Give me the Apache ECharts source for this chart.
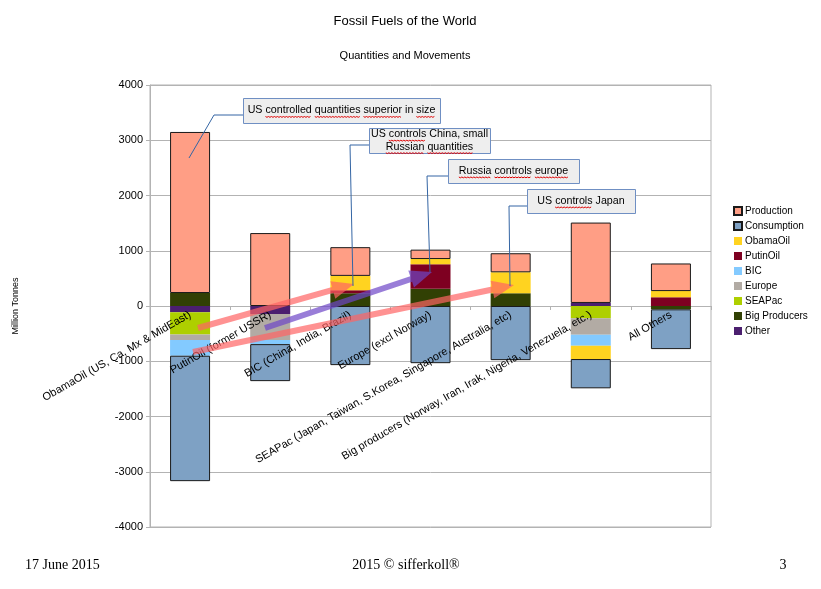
<!DOCTYPE html>
<html><head><meta charset="utf-8">
<script src="https://cdn.jsdelivr.net/npm/echarts@6/dist/echarts.min.js"></script>
<style>html,body{margin:0;padding:0;background:#fff}#c{width:821px;height:589px}</style>
</head><body><div id="c"></div>
<script>
// ---- data ----
const categories = [
  "ObamaOil (US, Ca, Mx & MidEast)",
  "PutinOil (former USSR)",
  "BIC (China, India, Brazil)",
  "Europe (excl Norway)",
  "SEAPac (Japan, Taiwan, S.Korea, Singapore, Australia, etc)",
  "Big producers (Norway, Iran, Irak, Nigeria, Venezuela, etc.)",
  "All Others"
];
const production   = [2915, 1320, 520, 170, 345, 1455, 500];
const consumption  = [-2270, -670, -1070, -1035, -980, -530, -720];
const obamaOil     = [null, null, 260, 95, 380, -240, 113];
const putinOil     = [null, null, 55, 445, null, null, 157];
const bic          = [-285, -75, null, null, null, -200, null];
const europe       = [-100, -470, null, null, null, -300, null];
const seapac       = [-400, null, null, null, null, -220, null];
const bigProducers = [235, null, 230, 310, 230, null, -60];
const other        = [-115, -145, null, null, null, 55, null];
const legendNames  = ["Production","Consumption","ObamaOil","PutinOil","BIC","Europe","SEAPac","Big Producers","Other"];
const yMin = -4000, yMax = 4000, yStep = 1000;

const FONT = '"Liberation Sans", Arial, sans-serif';
const chart = echarts.init(document.getElementById('c'));

const GRID = { left: 150, right: 110, top: 85, bottom: 62 };
const gridH = 589 - GRID.top - GRID.bottom;
// distance from bottom of grid to the zero value line
const zeroOffset = gridH * (0 - yMin) / (yMax - yMin);

function bar(name, data, color, border) {
  return {
    name, type: 'bar', stack: 'total', data, barWidth: 40,
    itemStyle: { color, borderColor: border ? '#1a1a1a' : color, borderWidth: border ? 1 : 0 },
    emphasis: { disabled: true }
  };
}

chart.setOption({
  animation: false,
  grid: Object.assign({ show: true, borderColor: '#b3b3b3', borderWidth: 1, containLabel: false, outerBoundsMode: 'none' }, GRID),
  legend: {
    data: legendNames, orient: 'vertical', left: 728, top: 201, icon: 'rect',
    itemWidth: 8, itemHeight: 8, itemGap: 5,
    textStyle: { fontFamily: FONT, fontSize: 10, color: '#000', lineHeight: 10, padding: [0, 0, 0, -2] },
    selectedMode: false
  },
  xAxis: {
    type: 'category', data: categories, z: 10, position: 'bottom', offset: -zeroOffset,
    axisLine: { show: true, onZero: false, lineStyle: { color: 'rgba(0,0,0,0)' } },
    axisTick: { show: true, length: 4, lineStyle: { color: '#b3b3b3' } },
    axisLabel: { interval: 0, rotate: 30, margin: 8, fontFamily: FONT, fontSize: 11, color: '#000' },
    splitLine: { show: false }
  },
  yAxis: {
    type: 'value', min: yMin, max: yMax, interval: yStep,
    name: 'Million Tonnes', nameLocation: 'middle', nameGap: 130,
    nameTextStyle: { fontFamily: FONT, fontSize: 9, color: '#000' },
    axisLine: { show: true, lineStyle: { color: '#b3b3b3' } },
    axisTick: { show: true, length: 4, lineStyle: { color: '#b3b3b3' } },
    axisLabel: { fontFamily: FONT, fontSize: 11, color: '#000', margin: 7, formatter: v => String(v) },
    splitLine: { show: true, lineStyle: { color: '#b3b3b3' } }
  },
  series: [
    bar('Other', other, '#4b1f6f'),
    bar('Big Producers', bigProducers, '#314004'),
    bar('SEAPac', seapac, '#aecf00'),
    bar('Europe', europe, '#b2aba4'),
    bar('BIC', bic, '#83caff'),
    bar('PutinOil', putinOil, '#7e0021'),
    bar('ObamaOil', obamaOil, '#ffd320'),
    bar('Consumption', consumption, '#7ea1c4', true),
    bar('Production', production, '#ff9e85', true)
  ]
});

// ---- annotations (decorations) ----
const mctx = document.createElement('canvas').getContext('2d');
const BOXFONT = '10.7px ' + FONT;
mctx.font = BOXFONT;
const tw = s => mctx.measureText(s).width;

const g = [];
function arrowPoly(x1, y1, x2, y2, sw, hw, hl) {
  const dx = x2 - x1, dy = y2 - y1, L = Math.hypot(dx, dy), ux = dx / L, uy = dy / L, nx = -uy, ny = ux;
  const bx = x2 - ux * hl, by = y2 - uy * hl;
  return [[x1 + nx * sw, y1 + ny * sw], [bx + nx * sw, by + ny * sw], [bx + nx * hw, by + ny * hw], [x2, y2],
          [bx - nx * hw, by - ny * hw], [bx - nx * sw, by - ny * sw], [x1 - nx * sw, y1 - ny * sw]];
}
function arrow(x1, y1, x2, y2, color) {
  g.push({ type: 'polygon', z: 50, shape: { points: arrowPoly(x1, y1, x2, y2, 3, 9, 22) }, style: { fill: color } });
}
function connector(pts) {
  g.push({ type: 'polyline', z: 60, shape: { points: pts }, style: { stroke: '#3465a4', lineWidth: 1, fill: null } });
}
function box(x, y, w, h, lines, under) {
  g.push({ type: 'rect', z: 70, shape: { x: x + 0.5, y: y + 0.5, width: w, height: h },
           style: { fill: '#eeeeee', stroke: '#6f8fc3', lineWidth: 1 } });
  const cx = x + w / 2;
  const lh = 12.5;
  const y0 = y + h / 2 - (lines.length - 1) * lh / 2;
  lines.forEach((ln, i) => {
    const ly = y0 + i * lh;
    g.push({ type: 'text', z: 71, x: cx, y: ly,
             style: { text: ln, font: BOXFONT, fill: '#000', align: 'center', verticalAlign: 'middle' } });
    const sx = cx - tw(ln) / 2;
    (under[i] || []).forEach(word => {
      const idx = ln.indexOf(word);
      if (idx < 0) return;
      const ox = sx + tw(ln.slice(0, idx));
      const ww = tw(word);
      const pts = [];
      for (let k = 0; k <= ww; k += 1.5) pts.push([ox + k, ly + 6 + ((Math.round(k / 1.5) % 2) ? 0.8 : 0)]);
      g.push({ type: 'polyline', z: 72, shape: { points: pts }, style: { stroke: '#e00000', lineWidth: 1, fill: null } });
    });
  });
}

arrow(198, 328, 354, 284, 'rgba(255,100,100,0.7)');
arrow(265, 328, 432, 272, 'rgba(110,70,200,0.7)');
arrow(193, 352, 514, 285, 'rgba(255,100,100,0.7)');

connector([[243, 115], [214, 115], [189, 158]]);
connector([[369, 145], [350, 145], [353, 286]]);
connector([[448, 176], [427, 176], [430, 272]]);
connector([[527, 206], [509, 206], [510, 286]]);

box(243, 98, 197, 25, ["US controlled quantities superior in size"], [["controlled", "quantities", "superior", "size"]]);
box(369, 128, 121, 25, ["US controls China, small", "Russian quantities"], [["controls"], ["Russian", "quantities"]]);
box(448, 159, 131, 24, ["Russia controls europe"], [["Russia", "controls", "europe"]]);
box(527, 189, 108, 24, ["US controls Japan"], [["controls"]]);

// titles and footer
g.push({ type: 'text', x: 405, y: 21, style: { text: 'Fossil Fuels of the World', font: '13px ' + FONT, fill: '#000', align: 'center', verticalAlign: 'middle' } });
g.push({ type: 'text', x: 405, y: 56, style: { text: 'Quantities and Movements', font: '11px ' + FONT, fill: '#000', align: 'center', verticalAlign: 'middle' } });
const SERIF = '14px "Liberation Serif", "Times New Roman", serif';
g.push({ type: 'text', x: 25, y: 565, style: { text: '17 June 2015', font: SERIF, fill: '#000', align: 'left', verticalAlign: 'middle' } });
g.push({ type: 'text', x: 406, y: 565, style: { text: '2015 © sifferkoll®', font: SERIF, fill: '#000', align: 'center', verticalAlign: 'middle' } });
g.push({ type: 'text', x: 783, y: 565, style: { text: '3', font: SERIF, fill: '#000', align: 'center', verticalAlign: 'middle' } });

chart.setOption({ graphic: g });
</script></body></html>
